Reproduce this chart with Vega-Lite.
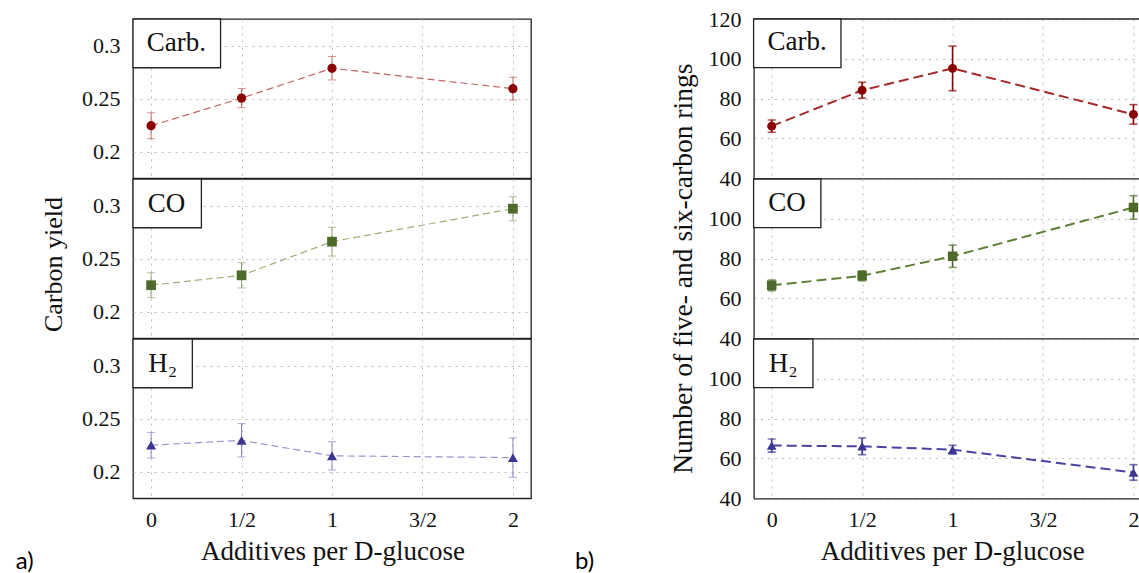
{
  "$schema": "https://vega.github.io/schema/vega-lite/v6.json",
  "padding": {"left": 15, "top": 8, "right": 0, "bottom": 0},
  "background": "white",
  "spacing": 42.6,
  "config": {
    "font": "Liberation Serif, serif",
    "view": {"stroke": "#222", "strokeWidth": 1.3},
    "style": {"guide-label": {"font": "Liberation Serif, serif"}, "guide-title": {"font": "Liberation Serif, serif"}},
    "axis": {
      "labelFont": "Liberation Serif, serif", "labelFontSize": 22, "labelColor": "#111",
      "titleFont": "Liberation Serif, serif", "titleFontSize": 27, "titleFontWeight": "normal", "titleColor": "#111",
      "ticks": false, "tickSize": 0, "domain": false, "grid": true,
      "gridColor": "#bbbbbb", "gridDash": [2, 5], "gridWidth": 1, "labelFlush": false, "labelOverlap": false, "labelSeparation": 0
    }
  },
  "datasets": {
    "pts": [
      {"c": "a", "g": "Carb.", "x": 0, "v": 0.2245, "e": 0.0122},
      {"c": "a", "g": "Carb.", "x": 0.5, "v": 0.2505, "e": 0.009},
      {"c": "a", "g": "Carb.", "x": 1, "v": 0.2786, "e": 0.011},
      {"c": "a", "g": "Carb.", "x": 2, "v": 0.2594, "e": 0.0107},
      {"c": "a", "g": "CO", "x": 0, "v": 0.225, "e": 0.0117},
      {"c": "a", "g": "CO", "x": 0.5, "v": 0.2343, "e": 0.0119},
      {"c": "a", "g": "CO", "x": 1, "v": 0.266, "e": 0.0135},
      {"c": "a", "g": "CO", "x": 2, "v": 0.297, "e": 0.0113},
      {"c": "a", "g": "H2", "x": 0, "v": 0.225, "e": 0.012},
      {"c": "a", "g": "H2", "x": 0.5, "v": 0.2296, "e": 0.0157},
      {"c": "a", "g": "H2", "x": 1, "v": 0.215, "e": 0.0133},
      {"c": "a", "g": "H2", "x": 2, "v": 0.2133, "e": 0.0185},
      {"c": "b", "g": "Carb.", "x": 0, "v": 66.2, "e": 3.1},
      {"c": "b", "g": "Carb.", "x": 0.5, "v": 84.2, "e": 4.0},
      {"c": "b", "g": "Carb.", "x": 1, "v": 95.2, "e": 11.2},
      {"c": "b", "g": "Carb.", "x": 2, "v": 72.1, "e": 4.9},
      {"c": "b", "g": "CO", "x": 0, "v": 66.6, "e": 2.7},
      {"c": "b", "g": "CO", "x": 0.5, "v": 71.4, "e": 2.5},
      {"c": "b", "g": "CO", "x": 1, "v": 81.2, "e": 5.6},
      {"c": "b", "g": "CO", "x": 2, "v": 105.7, "e": 5.9},
      {"c": "b", "g": "H2", "x": 0, "v": 66.5, "e": 3.3},
      {"c": "b", "g": "H2", "x": 0.5, "v": 66.1, "e": 4.2},
      {"c": "b", "g": "H2", "x": 1, "v": 64.4, "e": 2.2},
      {"c": "b", "g": "H2", "x": 2, "v": 53.0, "e": 3.9}
    ]
  },
  "data": {"name": "pts"},
  "hconcat": [
    {
      "spacing": 0,
      "bounds": "flush",
      "title": {"text": "a)", "orient": "bottom", "anchor": "start", "frame": "group", "dx": -117.3, "offset": 4, "baseline": "alphabetic", "font": "Lato", "fontSize": 24, "fontWeight": "normal", "color": "#000"},
      "vconcat": [
        {
          "width": 398, "height": 159.3,
          "layer": [
            {"transform": [{"filter": "datum.c == 'a' && datum.g == 'Carb.'"}],
             "mark": {"type": "line", "color": "#c06464", "strokeWidth": 1.2, "strokeDash": [7, 4]},
             "encoding": {
               "x": {"field": "x", "type": "quantitative", "title": null, "scale": {"domain": [-0.1, 2.1], "nice": false, "zero": false}, "axis": {"values": [0, 0.5, 1, 1.5, 2], "labels": false}},
               "y": {"field": "v", "type": "quantitative", "title": null, "scale": {"domain": [0.175, 0.325], "nice": false, "zero": false}, "axis": {"values": [0.2, 0.25, 0.3], "labelExpr": "'' + datum.value", "labelPadding": 13, "labelOverlap": false}}}},
            {"transform": [{"filter": "datum.c == 'a' && datum.g == 'Carb.'"}],
             "mark": {"type": "errorbar", "color": "#c06464", "thickness": 1, "ticks": {"size": 8, "thickness": 1}},
             "encoding": {"x": {"field": "x", "type": "quantitative", "title": null}, "y": {"field": "v", "type": "quantitative", "title": null}, "yError": {"field": "e"}}},
            {"transform": [{"filter": "datum.c == 'a' && datum.g == 'Carb.'"}],
             "mark": {"type": "point", "shape": "circle", "filled": true, "size": 85, "color": "#8b0000", "opacity": 1},
             "encoding": {"x": {"field": "x", "type": "quantitative", "title": null}, "y": {"field": "v", "type": "quantitative", "title": null}}},
            {"data": {"values": [{"label": "Carb."}]},
             "mark": {"type": "rect", "fill": "white", "stroke": "#222", "strokeWidth": 1.3},
             "encoding": {"x": {"datum": -0.1}, "x2": {"datum": 0.384}, "y": {"datum": 0.325}, "y2": {"datum": 0.2791}}},
            {"data": {"values": [{"label": "Carb."}]},
             "mark": {"type": "text", "font": "Liberation Serif, serif", "fontSize": 27, "color": "#111", "align": "center", "baseline": "middle"},
             "encoding": {"x": {"datum": 0.14}, "y": {"datum": 0.302}, "text": {"field": "label"}}}
          ]
        },
        {
          "width": 398, "height": 159.3,
          "layer": [
            {"transform": [{"filter": "datum.c == 'a' && datum.g == 'CO'"}],
             "mark": {"type": "line", "color": "#9cb07c", "strokeWidth": 1.2, "strokeDash": [7, 4]},
             "encoding": {
               "x": {"field": "x", "type": "quantitative", "title": null, "scale": {"domain": [-0.1, 2.1], "nice": false, "zero": false}, "axis": {"values": [0, 0.5, 1, 1.5, 2], "labels": false}},
               "y": {"field": "v", "type": "quantitative", "title": "Carbon yield", "scale": {"domain": [0.175, 0.325], "nice": false, "zero": false}, "axis": {"values": [0.2, 0.25, 0.3], "labelExpr": "'' + datum.value", "labelPadding": 13, "labelOverlap": false, "titleX": -71.8, "titleY": 85, "titleAngle": 270, "titleAlign": "center", "titleBaseline": "alphabetic", "titleFontSize": 26}}}},
            {"transform": [{"filter": "datum.c == 'a' && datum.g == 'CO'"}],
             "mark": {"type": "errorbar", "color": "#8fa46c", "thickness": 1, "ticks": {"size": 8, "thickness": 1}},
             "encoding": {"x": {"field": "x", "type": "quantitative", "title": null}, "y": {"field": "v", "type": "quantitative", "title": "Carbon yield"}, "yError": {"field": "e"}}},
            {"transform": [{"filter": "datum.c == 'a' && datum.g == 'CO'"}],
             "mark": {"type": "point", "shape": "square", "filled": true, "size": 95, "color": "#4f6b2b", "opacity": 1},
             "encoding": {"x": {"field": "x", "type": "quantitative", "title": null}, "y": {"field": "v", "type": "quantitative", "title": "Carbon yield"}}},
            {"data": {"values": [{"label": "CO"}]},
             "mark": {"type": "rect", "fill": "white", "stroke": "#222", "strokeWidth": 1.3},
             "encoding": {"x": {"datum": -0.1}, "x2": {"datum": 0.278}, "y": {"datum": 0.325}, "y2": {"datum": 0.2791}}},
            {"data": {"values": [{"label": "CO"}]},
             "mark": {"type": "text", "font": "Liberation Serif, serif", "fontSize": 27, "color": "#111", "align": "center", "baseline": "middle"},
             "encoding": {"x": {"datum": 0.085}, "y": {"datum": 0.301}, "text": {"field": "label"}}}
          ]
        },
        {
          "width": 398, "height": 159.3,
          "layer": [
            {"transform": [{"filter": "datum.c == 'a' && datum.g == 'H2'"}],
             "mark": {"type": "line", "color": "#9a95cf", "strokeWidth": 1.2, "strokeDash": [7, 4]},
             "encoding": {
               "x": {"field": "x", "type": "quantitative", "title": "Additives per D-glucose", "scale": {"domain": [-0.1, 2.1], "nice": false, "zero": false}, "axis": {"values": [0, 0.5, 1, 1.5, 2], "labelExpr": "datum.value == 0.5 ? '1/2' : datum.value == 1.5 ? '3/2' : '' + datum.value", "labelPadding": 28.5, "labelBaseline": "alphabetic", "labelOverlap": false, "titleX": 199.4, "titleY": 61.3, "titleBaseline": "alphabetic"}},
               "y": {"field": "v", "type": "quantitative", "title": null, "scale": {"domain": [0.175, 0.325], "nice": false, "zero": false}, "axis": {"values": [0.2, 0.25, 0.3], "labelExpr": "'' + datum.value", "labelPadding": 13, "labelOverlap": false}}}},
            {"transform": [{"filter": "datum.c == 'a' && datum.g == 'H2'"}],
             "mark": {"type": "errorbar", "color": "#8a85c4", "thickness": 1, "ticks": {"size": 8, "thickness": 1}},
             "encoding": {"x": {"field": "x", "type": "quantitative", "title": "Additives per D-glucose"}, "y": {"field": "v", "type": "quantitative", "title": null}, "yError": {"field": "e"}}},
            {"transform": [{"filter": "datum.c == 'a' && datum.g == 'H2'"}],
             "mark": {"type": "point", "shape": "triangle-up", "filled": true, "size": 100, "color": "#3c3591", "opacity": 1},
             "encoding": {"x": {"field": "x", "type": "quantitative", "title": "Additives per D-glucose"}, "y": {"field": "v", "type": "quantitative", "title": null}}},
            {"data": {"values": [{"label": "H₂"}]},
             "mark": {"type": "rect", "fill": "white", "stroke": "#222", "strokeWidth": 1.3},
             "encoding": {"x": {"datum": -0.1}, "x2": {"datum": 0.228}, "y": {"datum": 0.325}, "y2": {"datum": 0.2791}}},
            {"data": {"values": [{"label": "H₂"}]},
             "mark": {"type": "text", "font": "Liberation Serif, serif", "fontSize": 27, "color": "#111", "align": "center", "baseline": "middle"},
             "encoding": {"x": {"datum": 0.064}, "y": {"datum": 0.301}, "text": {"field": "label"}}}
          ]
        }
      ]
    },
    {
      "spacing": 0,
      "bounds": "flush",
      "title": {"text": "b)", "orient": "bottom", "anchor": "start", "frame": "group", "dx": -178.7, "offset": 4, "baseline": "alphabetic", "font": "Lato", "fontSize": 24, "fontWeight": "normal", "color": "#000"},
      "vconcat": [
        {
          "width": 386, "height": 159.3,
          "view": {"stroke": null},
          "layer": [
            {"transform": [{"filter": "datum.c == 'b' && datum.g == 'Carb.'"}],
             "mark": {"type": "line", "color": "#a32a2a", "strokeWidth": 2, "strokeDash": [10, 5]},
             "encoding": {
               "x": {"field": "x", "type": "quantitative", "title": null, "scale": {"domain": [-0.1, 2.034], "nice": false, "zero": false}, "axis": {"values": [0, 0.5, 1, 1.5, 2], "labels": false, "domain": true, "domainColor": "#222", "domainWidth": 1.3}},
               "y": {"field": "v", "type": "quantitative", "title": null, "scale": {"domain": [40, 120], "nice": false, "zero": false}, "axis": {"values": [40, 60, 80, 100, 120], "tickCount": 5, "labelPadding": 12.5, "labelOverlap": false, "labelSeparation": 0, "labelBound": false, "domain": true, "domainColor": "#222", "domainWidth": 1.3}}}},
            {"transform": [{"filter": "datum.c == 'b' && datum.g == 'Carb.'"}],
             "mark": {"type": "errorbar", "color": "#8b0000", "thickness": 1.6, "ticks": {"size": 8, "thickness": 1.6}},
             "encoding": {"x": {"field": "x", "type": "quantitative", "title": null}, "y": {"field": "v", "type": "quantitative", "title": null, "axis": {"values": [40, 60, 80, 100, 120], "tickCount": 5, "labelPadding": 12.5, "labelOverlap": false, "labelSeparation": 0, "labelBound": false, "domain": true, "domainColor": "#222", "domainWidth": 1.3}}, "yError": {"field": "e"}}},
            {"transform": [{"filter": "datum.c == 'b' && datum.g == 'Carb.'"}],
             "mark": {"type": "point", "shape": "circle", "filled": true, "size": 80, "color": "#8b0000", "opacity": 1},
             "encoding": {"x": {"field": "x", "type": "quantitative", "title": null}, "y": {"field": "v", "type": "quantitative", "title": null, "axis": {"values": [40, 60, 80, 100, 120], "tickCount": 5, "labelPadding": 12.5, "labelOverlap": false, "labelSeparation": 0, "labelBound": false, "domain": true, "domainColor": "#222", "domainWidth": 1.3}}}},
            {"data": {"values": [{"label": "Carb."}]},
             "mark": {"type": "rule", "color": "#222", "strokeWidth": 1.3},
             "encoding": {"x": {"datum": -0.1}, "x2": {"datum": 2.034}, "y": {"datum": 120}}},
            {"data": {"values": [{"label": "Carb."}]},
             "mark": {"type": "rect", "fill": "white", "stroke": "#222", "strokeWidth": 1.3},
             "encoding": {"x": {"datum": -0.1}, "x2": {"datum": 0.383}, "y": {"datum": 120}, "y2": {"datum": 95.54}}},
            {"data": {"values": [{"label": "Carb."}]},
             "mark": {"type": "text", "font": "Liberation Serif, serif", "fontSize": 27, "color": "#111", "align": "center", "baseline": "middle"},
             "encoding": {"x": {"datum": 0.14}, "y": {"datum": 108.4}, "text": {"field": "label"}}}
          ]
        },
        {
          "width": 386, "height": 159.3,
          "view": {"stroke": null},
          "layer": [
            {"transform": [{"filter": "datum.c == 'b' && datum.g == 'CO'"}],
             "mark": {"type": "line", "color": "#5f7f36", "strokeWidth": 2, "strokeDash": [10, 5]},
             "encoding": {
               "x": {"field": "x", "type": "quantitative", "title": null, "scale": {"domain": [-0.1, 2.034], "nice": false, "zero": false}, "axis": {"values": [0, 0.5, 1, 1.5, 2], "labels": false, "domain": true, "domainColor": "#222", "domainWidth": 1.3}},
               "y": {"field": "v", "type": "quantitative", "title": "Number of five- and six-carbon rings", "scale": {"domain": [40, 120], "nice": false, "zero": false}, "axis": {"values": [40, 60, 80, 100], "labelPadding": 12.5, "labelOverlap": false, "domain": true, "domainColor": "#222", "domainWidth": 1.3, "titleX": -62.6, "titleY": 89.2, "titleAngle": 270, "titleAlign": "center", "titleBaseline": "alphabetic", "titleFontSize": 27.5}}}},
            {"transform": [{"filter": "datum.c == 'b' && datum.g == 'CO'"}],
             "mark": {"type": "errorbar", "color": "#4f6b2b", "thickness": 1.6, "ticks": {"size": 8, "thickness": 1.6}},
             "encoding": {"x": {"field": "x", "type": "quantitative", "title": null}, "y": {"field": "v", "type": "quantitative", "title": "Number of five- and six-carbon rings"}, "yError": {"field": "e"}}},
            {"transform": [{"filter": "datum.c == 'b' && datum.g == 'CO'"}],
             "mark": {"type": "point", "shape": "square", "filled": true, "size": 90, "color": "#4f6b2b", "opacity": 1},
             "encoding": {"x": {"field": "x", "type": "quantitative", "title": null}, "y": {"field": "v", "type": "quantitative", "title": "Number of five- and six-carbon rings"}}},
            {"data": {"values": [{"label": "CO"}]},
             "mark": {"type": "rect", "fill": "white", "stroke": "#222", "strokeWidth": 1.3},
             "encoding": {"x": {"datum": -0.1}, "x2": {"datum": 0.272}, "y": {"datum": 120}, "y2": {"datum": 95.54}}},
            {"data": {"values": [{"label": "CO"}]},
             "mark": {"type": "text", "font": "Liberation Serif, serif", "fontSize": 27, "color": "#111", "align": "center", "baseline": "middle"},
             "encoding": {"x": {"datum": 0.084}, "y": {"datum": 107.9}, "text": {"field": "label"}}}
          ]
        },
        {
          "width": 386, "height": 159.3,
          "view": {"stroke": null},
          "layer": [
            {"transform": [{"filter": "datum.c == 'b' && datum.g == 'H2'"}],
             "mark": {"type": "line", "color": "#4a43a0", "strokeWidth": 2, "strokeDash": [10, 5]},
             "encoding": {
               "x": {"field": "x", "type": "quantitative", "title": "Additives per D-glucose", "scale": {"domain": [-0.1, 2.034], "nice": false, "zero": false}, "axis": {"values": [0, 0.5, 1, 1.5, 2], "labelExpr": "datum.value == 0.5 ? '1/2' : datum.value == 1.5 ? '3/2' : '' + datum.value", "labelPadding": 28.5, "labelBaseline": "alphabetic", "labelOverlap": false, "titleX": 198.7, "titleY": 61.3, "titleBaseline": "alphabetic", "domain": true, "domainColor": "#222", "domainWidth": 1.3}},
               "y": {"field": "v", "type": "quantitative", "title": null, "scale": {"domain": [40, 120], "nice": false, "zero": false}, "axis": {"values": [40, 60, 80, 100], "labelPadding": 12.5, "labelOverlap": false, "domain": true, "domainColor": "#222", "domainWidth": 1.3}}}},
            {"transform": [{"filter": "datum.c == 'b' && datum.g == 'H2'"}],
             "mark": {"type": "errorbar", "color": "#3c3591", "thickness": 1.6, "ticks": {"size": 8, "thickness": 1.6}},
             "encoding": {"x": {"field": "x", "type": "quantitative", "title": "Additives per D-glucose"}, "y": {"field": "v", "type": "quantitative", "title": null}, "yError": {"field": "e"}}},
            {"transform": [{"filter": "datum.c == 'b' && datum.g == 'H2'"}],
             "mark": {"type": "point", "shape": "triangle-up", "filled": true, "size": 95, "color": "#3c3591", "opacity": 1},
             "encoding": {"x": {"field": "x", "type": "quantitative", "title": "Additives per D-glucose"}, "y": {"field": "v", "type": "quantitative", "title": null}}},
            {"data": {"values": [{"label": "H₂"}]},
             "mark": {"type": "rect", "fill": "white", "stroke": "#222", "strokeWidth": 1.3},
             "encoding": {"x": {"datum": -0.1}, "x2": {"datum": 0.228}, "y": {"datum": 120}, "y2": {"datum": 95.54}}},
            {"data": {"values": [{"label": "H₂"}]},
             "mark": {"type": "text", "font": "Liberation Serif, serif", "fontSize": 27, "color": "#111", "align": "center", "baseline": "middle"},
             "encoding": {"x": {"datum": 0.064}, "y": {"datum": 107.5}, "text": {"field": "label"}}}
          ]
        }
      ]
    }
  ]
}
